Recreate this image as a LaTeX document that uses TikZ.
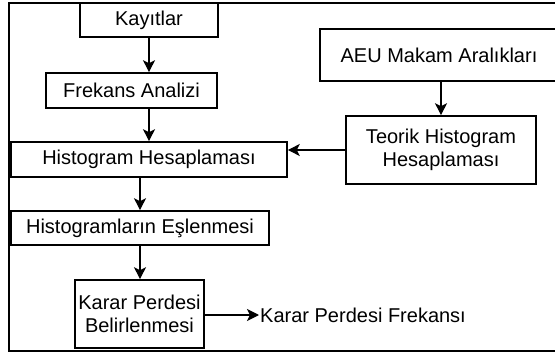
\documentclass[tikz,border=0pt]{standalone}
\usepackage{fontspec}
\setmainfont{Liberation Sans}
\usetikzlibrary{arrows.meta, positioning, calc}

\begin{document}
\begin{tikzpicture}[
  x=1pt, y=-1pt,
  box/.style={rectangle, draw=black, line width=1.6pt, fill=white,
              inner sep=0pt, align=center,
              font=\fontsize{20}{23.5}\selectfont},
  arr/.style={-{Stealth[length=12pt, width=12pt, inset=3pt]}, line width=1.3pt}
]
\useasboundingbox (0,0) rectangle (555,353);
% outer frame, open to the right
\draw[line width=1.6pt] (562,3) -- (9,3) -- (9,351) -- (562,351);

\node[box, minimum width=138pt, minimum height=34pt] (kay)   at (149,20)    {Kayıtlar};
\node[box, minimum width=171pt, minimum height=35pt] (frek)  at (131.5,90.5) {Frekans Analizi};
\node[box, minimum width=276pt, minimum height=35pt] (hist)  at (149,159.5) {Histogram Hesaplaması};
\node[box, minimum width=258pt, minimum height=34pt] (esl)   at (140,228)   {Histogramların Eşlenmesi};
\node[box, minimum width=129pt, minimum height=68pt] (karar) at (139.5,314) {Karar Perdesi\\Belirlenmesi};
\node[box, minimum width=238pt, minimum height=52pt] (aeu)   at (439,55)    {AEU Makam Aralıkları};
\node[box, minimum width=190pt, minimum height=68pt] (teo)   at (441,150)   {Teorik Histogram\\Hesaplaması};
\node[inner sep=1pt, anchor=west, font=\fontsize{20}{23.5}\selectfont] (frq) at (259,315) {Karar Perdesi Frekansı};

\draw[arr] (kay.south) -- (kay.south |- frek.north);
\draw[arr] (kay.south |- frek.south) -- (kay.south |- hist.north);
\draw[arr] (esl.north |- hist.south) -- (esl.north);
\draw[arr] (esl.south) -- (esl.south |- karar.north);
\draw[arr] (teo.north |- aeu.south) -- (teo.north);
\draw[arr] (teo.west) -- (teo.west -| hist.east);
\draw[arr] (karar.east |- frq.west) -- (frq.west);
\end{tikzpicture}
\end{document}
